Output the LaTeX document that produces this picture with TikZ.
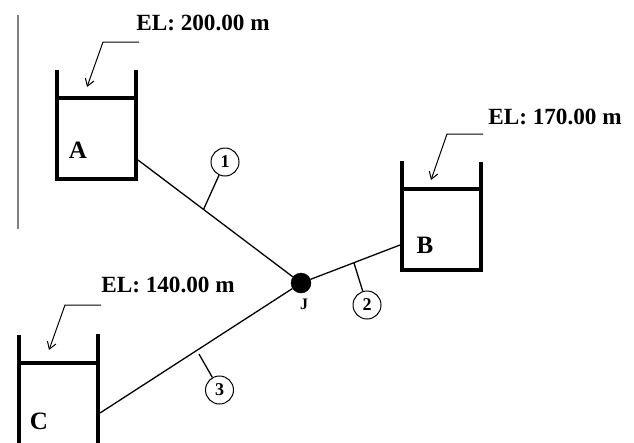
\documentclass[tikz,border=0pt]{standalone}
\usepackage{fontspec}
\setmainfont{Liberation Serif}
\usepackage{tikz}
\usetikzlibrary{arrows.meta,positioning}

\begin{document}
\begin{tikzpicture}[x=1pt,y=-1pt,
tankbody/.style={draw,line width=4pt,outer sep=0pt,minimum width=79pt,minimum height=81pt,inner sep=0pt},
tankwall/.style={line width=4pt},
pipe/.style={line width=1.3pt},
leader/.style={line width=1pt,-{Straight Barb[length=7pt,width=9pt]}},
pipelabel/.style={draw,circle,line width=1pt,minimum size=28pt,inner sep=0pt,font=\bfseries\fontsize{18}{18}\selectfont},
tanklabel/.style={inner sep=0pt,font=\bfseries\fontsize{25}{25}\selectfont},
ellabel/.style={inner sep=0pt,font=\bfseries\fontsize{23.2}{24}\selectfont}]
\useasboundingbox (0,0) rectangle (634,442);
\draw[line width=1.5pt,gray] (18,15) -- (18,229);
% tanks
\node[tankbody] (tankA) at (96.5,138) {};
\node[tankbody] (tankB) at (441,229) {};
\node[tankbody,minimum height=86pt] (tankC) at (58.5,406) {};
\draw[tankwall] (tankA.north west) -- ++(0,-28);
\draw[tankwall] (tankA.north east) -- ++(0,-28);
\draw[tankwall] (tankB.north west) -- ++(0,-28);
\draw[tankwall] (tankB.north east) -- ++(0,-27);
\draw[tankwall] (tankC.north west) -- ++(0,-28);
\draw[tankwall] (tankC.north east) -- ++(0,-29);
\node[tanklabel] (nameA) at (78,150) {A};
\node[tanklabel] (nameB) at (425,245) {B};
\node[tanklabel] (nameC) at (39,421) {C};
% junction and pipes
\node[draw,circle,fill,minimum size=20pt,inner sep=0pt] (J) at (301,283) {};
\node[inner sep=0pt,font=\bfseries\fontsize{16}{16}\selectfont] (nameJ) at (304,304) {J};
\coordinate (endA) at (138,160);
\coordinate (endB) at (400,245);
\coordinate (endC) at (100,413);
\draw[pipe] (endA) -- (J) coordinate[pos=.423] (tick1);
\draw[pipe] (endB) -- (J) coordinate[pos=.515] (tick2);
\draw[pipe] (endC) -- (J);
\coordinate (tick3) at (199,354);
% pipe numbers
\node[pipelabel] (one) at (225,162) {1};
\node[pipelabel] (two) at (367,305) {2};
\node[pipelabel] (three) at (219.5,390) {3};
\draw[pipe] (one) -- (tick1);
\draw[pipe] (two) -- (tick2);
\draw[pipe] (three) -- (tick3);
% elevations
\node[ellabel] (elA) at (203,23) {EL: 200.00 m};
\node[ellabel] (elB) at (555,117) {EL: 170.00 m};
\node[ellabel] (elC) at (168,285) {EL: 140.00 m};
\coordinate (kneeA) at (103,42);
\coordinate (kneeB) at (447,134);
\coordinate (kneeC) at (65,305);
\coordinate (tipA) at (87,87);
\coordinate (tipB) at (431,180);
\coordinate (tipC) at (49,350);
\draw[leader] (139,42) -- (kneeA) -- (tipA);
\draw[leader] (483,134) -- (kneeB) -- (tipB);
\draw[leader] (101,305) -- (kneeC) -- (tipC);
\end{tikzpicture}
\end{document}
